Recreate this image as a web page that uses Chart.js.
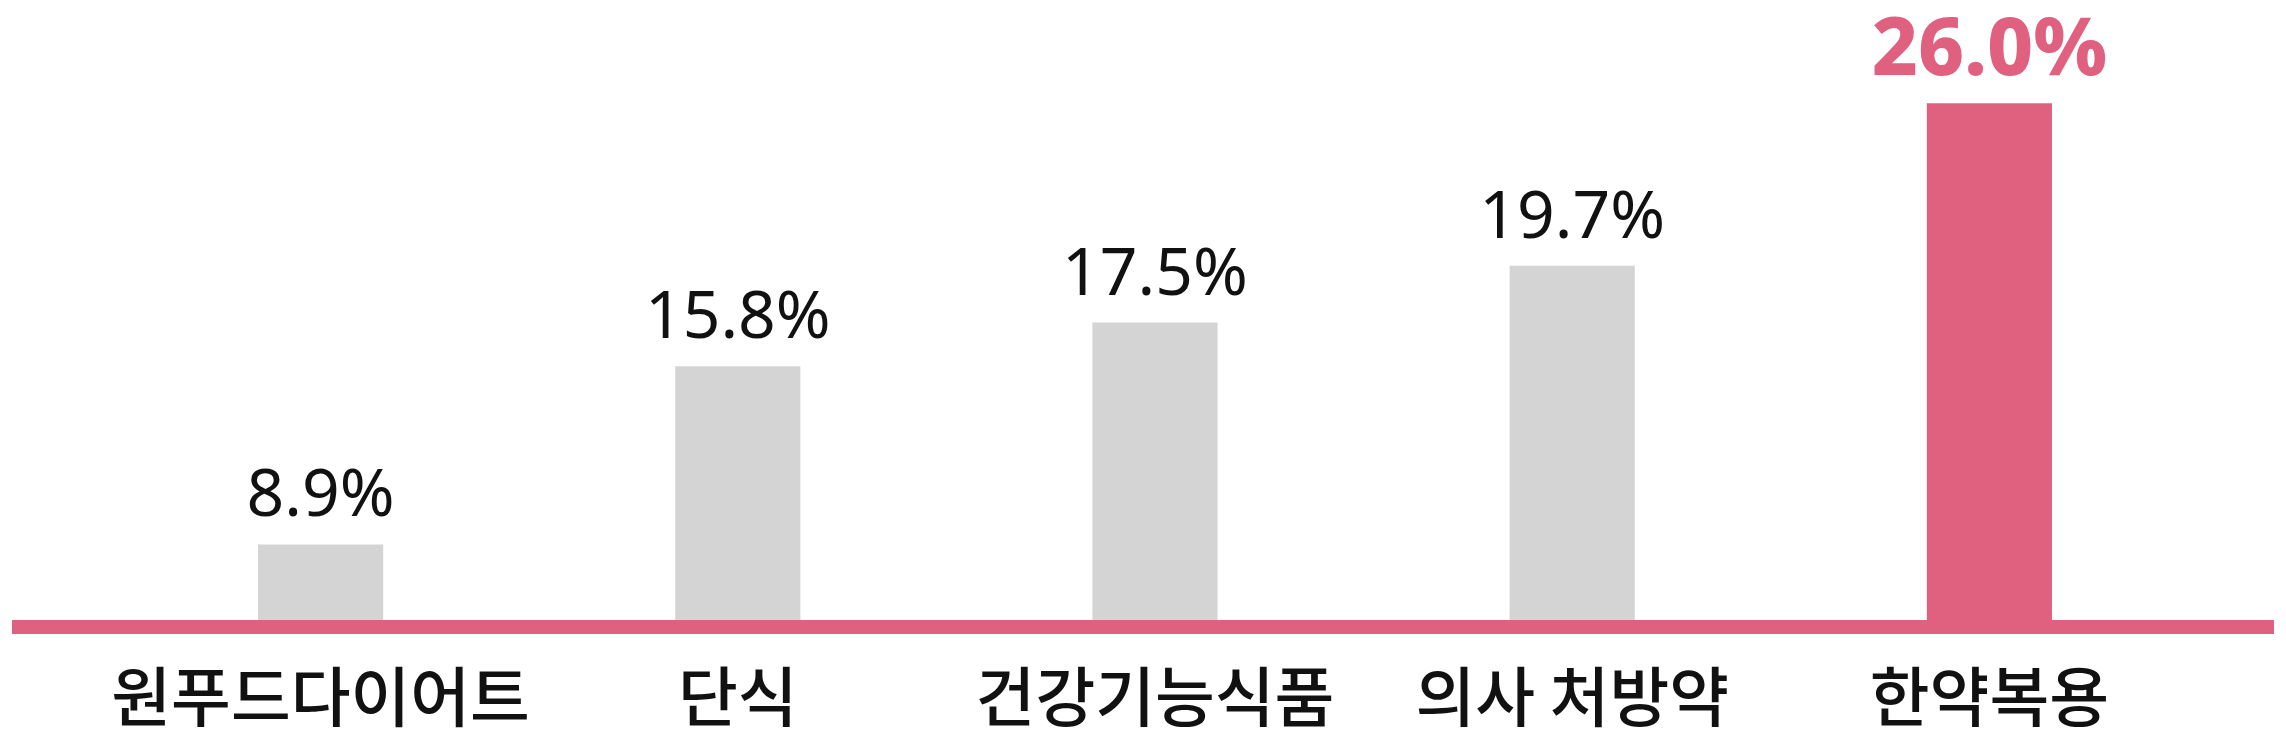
<!DOCTYPE html>
<html>
<head>
<meta charset="utf-8">
<script src="https://cdn.jsdelivr.net/npm/chart.js@4/dist/chart.umd.min.js"></script>
<style>
  html, body { margin: 0; padding: 0; background: #fff; }
  #wrap { width: 2286px; height: 746px; }
</style>
</head>
<body>
<div id="wrap"><canvas id="chart"></canvas></div>
<script>
// data
const categories = ['원푸드다이어트', '단식', '건강기능식품', '의사 처방약', '한약복용'];
const shares = [8.9, 15.8, 17.5, 19.7, 26.0];
const highlightIndex = 4;

const PINK = '#E0617F';
const GRAY = '#D4D4D4';

// value labels above the bars
const valueLabels = {
  id: 'valueLabels',
  afterDatasetsDraw(chart) {
    const ctx = chart.ctx;
    const meta = chart.getDatasetMeta(0);
    ctx.save();
    ctx.textAlign = 'center';
    ctx.textBaseline = 'alphabetic';
    meta.data.forEach((bar, i) => {
      const hi = i === highlightIndex;
      ctx.fillStyle = hi ? PINK : '#111';
      ctx.font = hi ? '800 80px "Noto Sans"' : '400 66px "Noto Sans"';
      ctx.fillText(shares[i].toFixed(1) + '%', bar.x, bar.y - 28);
    });
    ctx.restore();
  }
};

// pink base line, runs nearly edge to edge
const baseLine = {
  id: 'baseLine',
  afterDatasetsDraw(chart) {
    const ctx = chart.ctx;
    const y = chart.scales.y.getPixelForValue(chart.scales.y.min);
    ctx.save();
    ctx.strokeStyle = PINK;
    ctx.lineWidth = 14;
    ctx.beginPath();
    ctx.moveTo(12, y);
    ctx.lineTo(chart.width - 12, y);
    ctx.stroke();
    ctx.restore();
  }
};

new Chart(document.getElementById('chart'), {
  type: 'bar',
  data: {
    labels: categories,
    datasets: [{
      data: shares,
      backgroundColor: shares.map((v, i) => i === highlightIndex ? PINK : GRAY),
      borderWidth: 0,
      categoryPercentage: 1,
      barPercentage: 0.3
    }]
  },
  options: {
    responsive: true,
    maintainAspectRatio: false,
    animation: false,
    layout: { padding: { left: 112, right: 88, top: 18, bottom: 0 } },
    plugins: {
      legend: { display: false },
      tooltip: { enabled: false }
    },
    scales: {
      x: {
        grid: { display: false, drawTicks: false },
        border: { display: false },
        afterFit: (s) => { s.height = 119; },
        ticks: {
          padding: 30,
          autoSkip: false,
          maxRotation: 0,
          minRotation: 0,
          color: '#111',
          font: { family: '"Noto Sans CJK KR"', size: 65, weight: '500' }
        }
      },
      y: {
        display: false,
        min: 5.7,
        max: 29.3
      }
    }
  },
  plugins: [valueLabels, baseLine]
});
</script>
</body>
</html>
